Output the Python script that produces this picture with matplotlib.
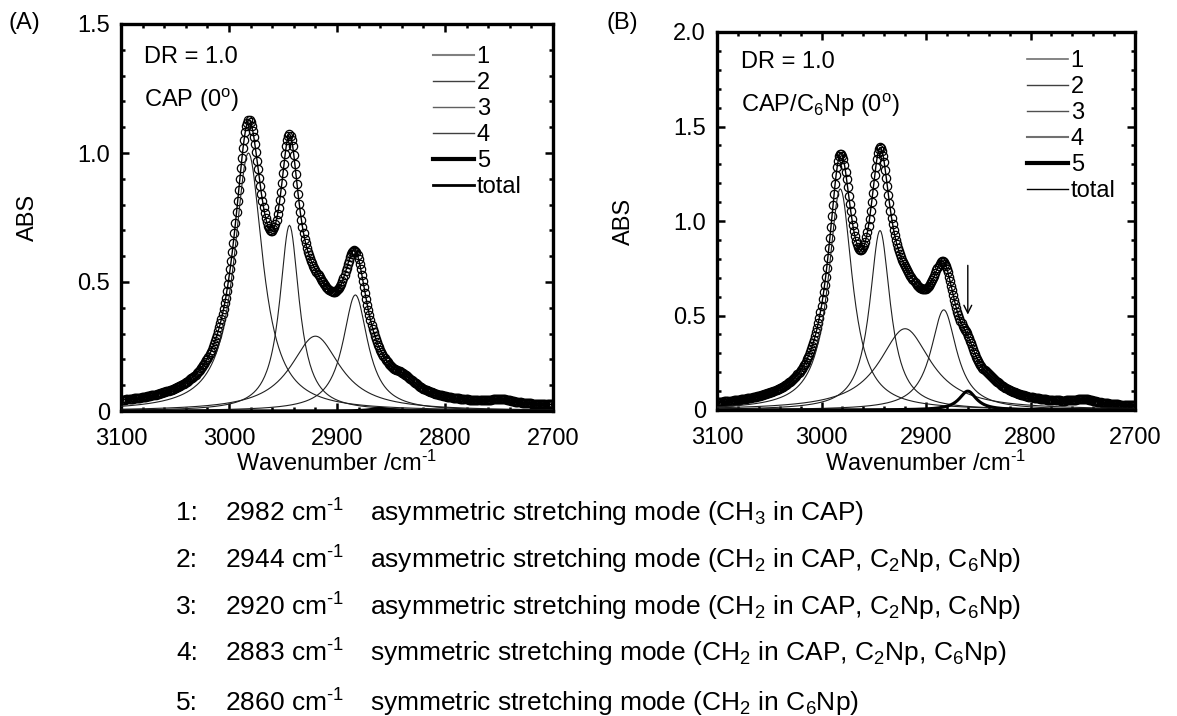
import matplotlib
matplotlib.use("Agg")
import matplotlib.pyplot as plt
from matplotlib.ticker import MultipleLocator, FuncFormatter
from matplotlib.lines import Line2D
import numpy as np

plt.rcParams['font.family'] = ['Liberation Sans', 'DejaVu Sans']
plt.rcParams['mathtext.fontset'] = 'custom'
plt.rcParams['mathtext.rm'] = 'Liberation Sans'
plt.rcParams['mathtext.it'] = 'Liberation Sans:italic'
plt.rcParams['mathtext.default'] = 'regular'

# band positions (cm-1) of the five fitted components
band_pos = [2982, 2944, 2920, 2883, 2860]
band_names = ['1', '2', '3', '4', '5']

# (A) CAP: component heights / half widths
cap_height = [1.00, 0.72, 0.29, 0.45, 0.01]
cap_hwhm = [16, 11, 28, 14, 10]
# weak features of the measured spectrum not assigned to a component
cap_extra_pos = [2838, 2748]
cap_extra_height = [0.04, 0.015]
cap_extra_hwhm = [15, 12]
cap_base = 0.012

# (B) CAP/C6Np
c6_height = [1.17, 0.95, 0.43, 0.53, 0.10]
c6_hwhm = [14, 12, 30, 15, 10]
c6_extra_pos = [2838, 2748]
c6_extra_height = [0.03, 0.025]
c6_extra_hwhm = [15, 14]
c6_base = 0.005

wn = np.arange(3100, 2699, -1.0)

assign_no = ['1:', '2:', '3:', '4:', '5:']
assign_wn = ['2982', '2944', '2920', '2883', '2860']
assign_txt = ['asymmetric stretching mode (CH$_3$ in CAP)',
              'asymmetric stretching mode (CH$_2$ in CAP, C$_2$Np, C$_6$Np)',
              'asymmetric stretching mode (CH$_2$ in CAP, C$_2$Np, C$_6$Np)',
              'symmetric stretching mode (CH$_2$ in CAP, C$_2$Np, C$_6$Np)',
              'symmetric stretching mode (CH$_2$ in C$_6$Np)']

leg_a = [('#808080', 1.5), ('#404040', 1.0), ('#606060', 1.0), ('#404040', 1.0), ('black', 3.0), ('black', 2.0)]
leg_b = [('#707070', 1.2), ('#404040', 1.0), ('#505050', 1.0), ('#707070', 1.5), ('black', 3.0), ('black', 1.0)]

CM1 = 'cm$^{\\text{-}1}$'


def lorentz(x, pos, h, w):
    return h / (1 + ((x - pos) / w) ** 2)


def espectro(ax, heights, hwhm, ex_pos, ex_h, ex_w, base, estilos):
    comps = [lorentz(wn, p, h, w) for p, h, w in zip(band_pos, heights, hwhm)]
    extra = sum(lorentz(wn, p, h, w) for p, h, w in zip(ex_pos, ex_h, ex_w))
    total = sum(comps) + extra + base
    for i, c in enumerate(comps):
        if i < 4:
            ax.plot(wn, c, color='#202020', lw=0.8, zorder=3)
        else:
            ax.plot(wn, c, color='black', lw=2.2, zorder=3)
    ax.plot(wn, total, 'o', ms=6, mfc='none', mec='black', mew=0.9, zorder=2)
    ax.plot(wn, total, color='black', lw=1.0, zorder=4)
    # legend entries drawn with the legend styles
    return [Line2D([], [], color=c, lw=l) for c, l in estilos]


def formato(ax, ymax):
    ax.set_xlim(3100, 2700)
    ax.set_ylim(0, ymax)
    ax.xaxis.set_major_locator(MultipleLocator(100))
    ax.xaxis.set_minor_locator(MultipleLocator(20))
    ax.yaxis.set_major_locator(MultipleLocator(0.5))
    ax.yaxis.set_minor_locator(MultipleLocator(0.1))
    ax.yaxis.set_major_formatter(FuncFormatter(lambda v, p: '0' if v == 0 else f'{v:.1f}'))
    ax.tick_params(which='both', direction='in', top=True, right=True, labelsize=17, width=1.8)
    ax.tick_params(which='major', length=6)
    ax.tick_params(which='minor', length=3)
    ax.tick_params(axis='x', which='major', pad=12)
    ax.tick_params(axis='y', which='major', pad=8)
    for s in ax.spines.values():
        s.set_linewidth(2.4)
    ax.set_xlabel('Wavenumber /' + CM1, fontsize=17)
    ax.set_ylabel('ABS', fontsize=17)


fig = plt.figure(figsize=(11.77, 7.16), dpi=100)
W, H = 1177, 716
ax_a = fig.add_axes([121 / W, 1 - 411 / H, 432 / W, 387 / H])
ax_b = fig.add_axes([717 / W, 1 - 410 / H, 418 / W, 378 / H])

prox_a = espectro(ax_a, cap_height, cap_hwhm, cap_extra_pos, cap_extra_height,
                  cap_extra_hwhm, cap_base, leg_a)
prox_b = espectro(ax_b, c6_height, c6_hwhm, c6_extra_pos, c6_extra_height,
                  c6_extra_hwhm, c6_base, leg_b)
formato(ax_a, 1.5)
formato(ax_b, 2.0)

ax_a.xaxis.set_label_coords(0.5, -(463 - 411) / 387)
ax_a.yaxis.set_label_coords(-93 / 432, 0.5)
ax_b.xaxis.set_label_coords(0.5, -(463 - 410) / 378)
ax_b.yaxis.set_label_coords(-93 / 418, 0.5)
for ax in (ax_a, ax_b):
    ax.xaxis.label.set_va('center')
    ax.yaxis.label.set_va('center')

labels = band_names + ['total']
ax_a.legend(prox_a, labels, loc='upper left', bbox_to_anchor=((433 - 121) / 432, (411 - 46) / 387),
            frameon=False, fontsize=17, handlelength=1.75, handletextpad=0.1,
            labelspacing=0.17, borderpad=0, borderaxespad=0)
ax_b.legend(prox_b, labels, loc='upper left', bbox_to_anchor=((1027 - 717) / 418, (410 - 50) / 378),
            frameon=False, fontsize=17, handlelength=1.75, handletextpad=0.1,
            labelspacing=0.17, borderpad=0, borderaxespad=0)

ax_a.text((144 - 121) / 432, (411 - 57) / 387, 'DR = 1.0', transform=ax_a.transAxes,
          fontsize=17, va='center')
ax_a.text((144 - 121) / 432, (411 - 100) / 387, 'CAP (0$^{\\rm o}$)', transform=ax_a.transAxes,
          fontsize=17, va='center')
ax_b.text((741 - 717) / 418, (410 - 62) / 378, 'DR = 1.0', transform=ax_b.transAxes,
          fontsize=17, va='center')
ax_b.text((741 - 717) / 418, (410 - 105) / 378, 'CAP/C$_6$Np (0$^{\\rm o}$)', transform=ax_b.transAxes,
          fontsize=17, va='center')

ax_b.annotate('', xy=(2860, 0.49), xytext=(2860, 0.78),
              arrowprops=dict(arrowstyle='->', lw=1.0, color='black', mutation_scale=14))

fig.text(9 / W, 1 - 23 / H, '(A)', fontsize=17, va='center')
fig.text(607 / W, 1 - 23 / H, '(B)', fontsize=17, va='center')

rows_y = [513, 560, 607, 653, 703]
for k in range(5):
    y = 1 - rows_y[k] / H
    fig.text(176 / W, y, assign_no[k], fontsize=19, va='center')
    fig.text(225 / W, y, assign_wn[k] + ' ' + CM1, fontsize=19, va='center')
    fig.text(370 / W, y, assign_txt[k], fontsize=19, va='center')

fig.savefig('out.png', dpi=100)
